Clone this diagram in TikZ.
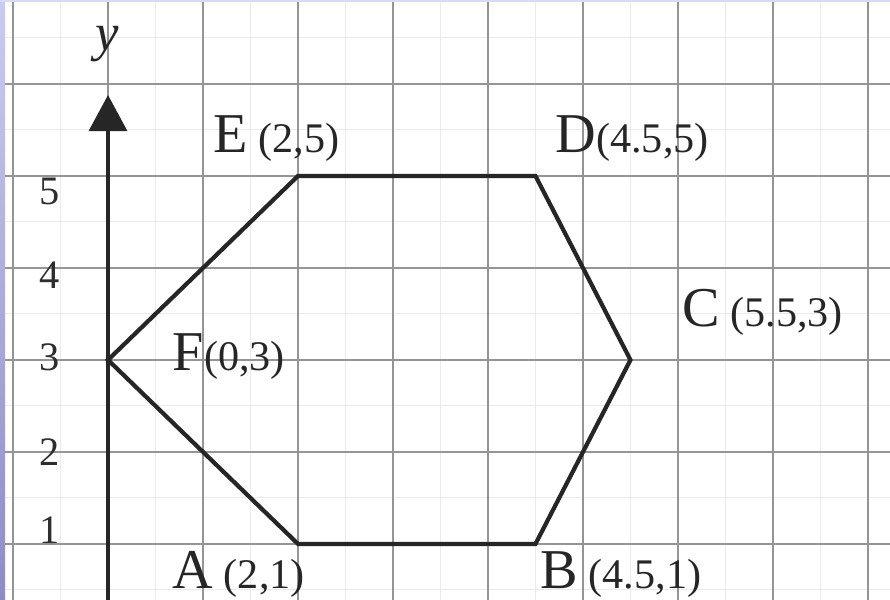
\documentclass[tikz,border=0pt]{standalone}
\usepackage{fontspec}
\setmainfont{Liberation Serif}
\usetikzlibrary{arrows.meta}
\definecolor{GridGray}{HTML}{959595}
\definecolor{FaintGray}{HTML}{EBEBEB}
\definecolor{InkBlack}{HTML}{262626}
\definecolor{TickGray}{HTML}{2E2E2E}
\definecolor{SlideTop}{HTML}{C8CCF4}
\definecolor{SlideBottom}{HTML}{8C8CC8}
\newcommand{\ptname}[1]{{\fontsize{16}{16}\selectfont #1}}
\newcommand{\ptxy}[1]{{\fontsize{12}{12}\selectfont #1}}

\begin{document}
\begin{tikzpicture}[x=0.95cm,y=0.92cm, every node/.style={font=\rmfamily\fontsize{12}{12}\selectfont, inner sep=0pt, text=InkBlack}]
  \useasboundingbox (-1.137,0.391) rectangle (8.232,6.913);
  \fill[white] (-1.137,0.391) rectangle (8.232,6.913);
  % graph paper
  \foreach \x in {-0.5,0.5,...,7.5}
    \draw[FaintGray, line width=0.3pt] (\x,0.391) -- (\x,6.913);
  \foreach \y in {0.5,1.5,...,6.5}
    \draw[FaintGray, line width=0.3pt] (-1.137,\y) -- (8.232,\y);
  \foreach \x in {-1,...,8}
    \draw[GridGray, line width=0.5pt] (\x,0.391) -- (\x,6.913);
  \foreach \y in {1,...,6}
    \draw[GridGray, line width=0.5pt] (-1.137,\y) -- (8.232,\y);
  \shade[top color=SlideTop, bottom color=SlideBottom] (-1.137,0.391) rectangle (-1.084,6.913);
  \fill[SlideTop!70] (-1.137,6.89) rectangle (8.232,6.913);
  % y axis
  \coordinate (ybase) at (0,0.391);
  \coordinate (ytip) at (0,5.88);
  \draw[InkBlack, line width=0.9pt, -{Triangle[length=3.6mm,width=3.8mm]}] (ybase) -- (ytip);
  \node[font=\itshape\fontsize{15}{15}\selectfont] (ylab) at (-0.01,6.43) {y};
  \foreach \n/\y in {5/4.83,4/3.92,3/3.03,2/2.0,1/1.15}
    \node[text=TickGray, font=\fontsize{11.5}{12}\selectfont] (tick\n) at (-0.61,\y) {\n};
  % hexagon
  \coordinate (A) at (2,1);
  \coordinate (B) at (4.5,1);
  \coordinate (C) at (5.5,3);
  \coordinate (D) at (4.5,5);
  \coordinate (E) at (2,5);
  \coordinate (F) at (0,3);
  \draw[InkBlack, line width=1.2pt] (A) -- (B) -- (C) -- (D) -- (E) -- (F) -- cycle;
  \node[anchor=base west] (labE) at (1.105,5.25) {\ptname{E} \ptxy{(2,5)}};
  \node[anchor=base west] (labD) at (4.705,5.25) {\ptname{D}\ptxy{(4.5,5)}};
  \node[anchor=base west] (labC) at (6.04,3.36) {\ptname{C} \ptxy{(5.5,3)}};
  \node[anchor=base west] (labF) at (0.674,2.89) {\ptname{F}\ptxy{(0,3)}};
  \node[anchor=base west] (labA) at (0.674,0.52) {\ptname{A} \ptxy{(2,1)}};
  \node[anchor=base west] (labB) at (4.547,0.52) {\ptname{B} \ptxy{(4.5,1)}};
\end{tikzpicture}
\end{document}
